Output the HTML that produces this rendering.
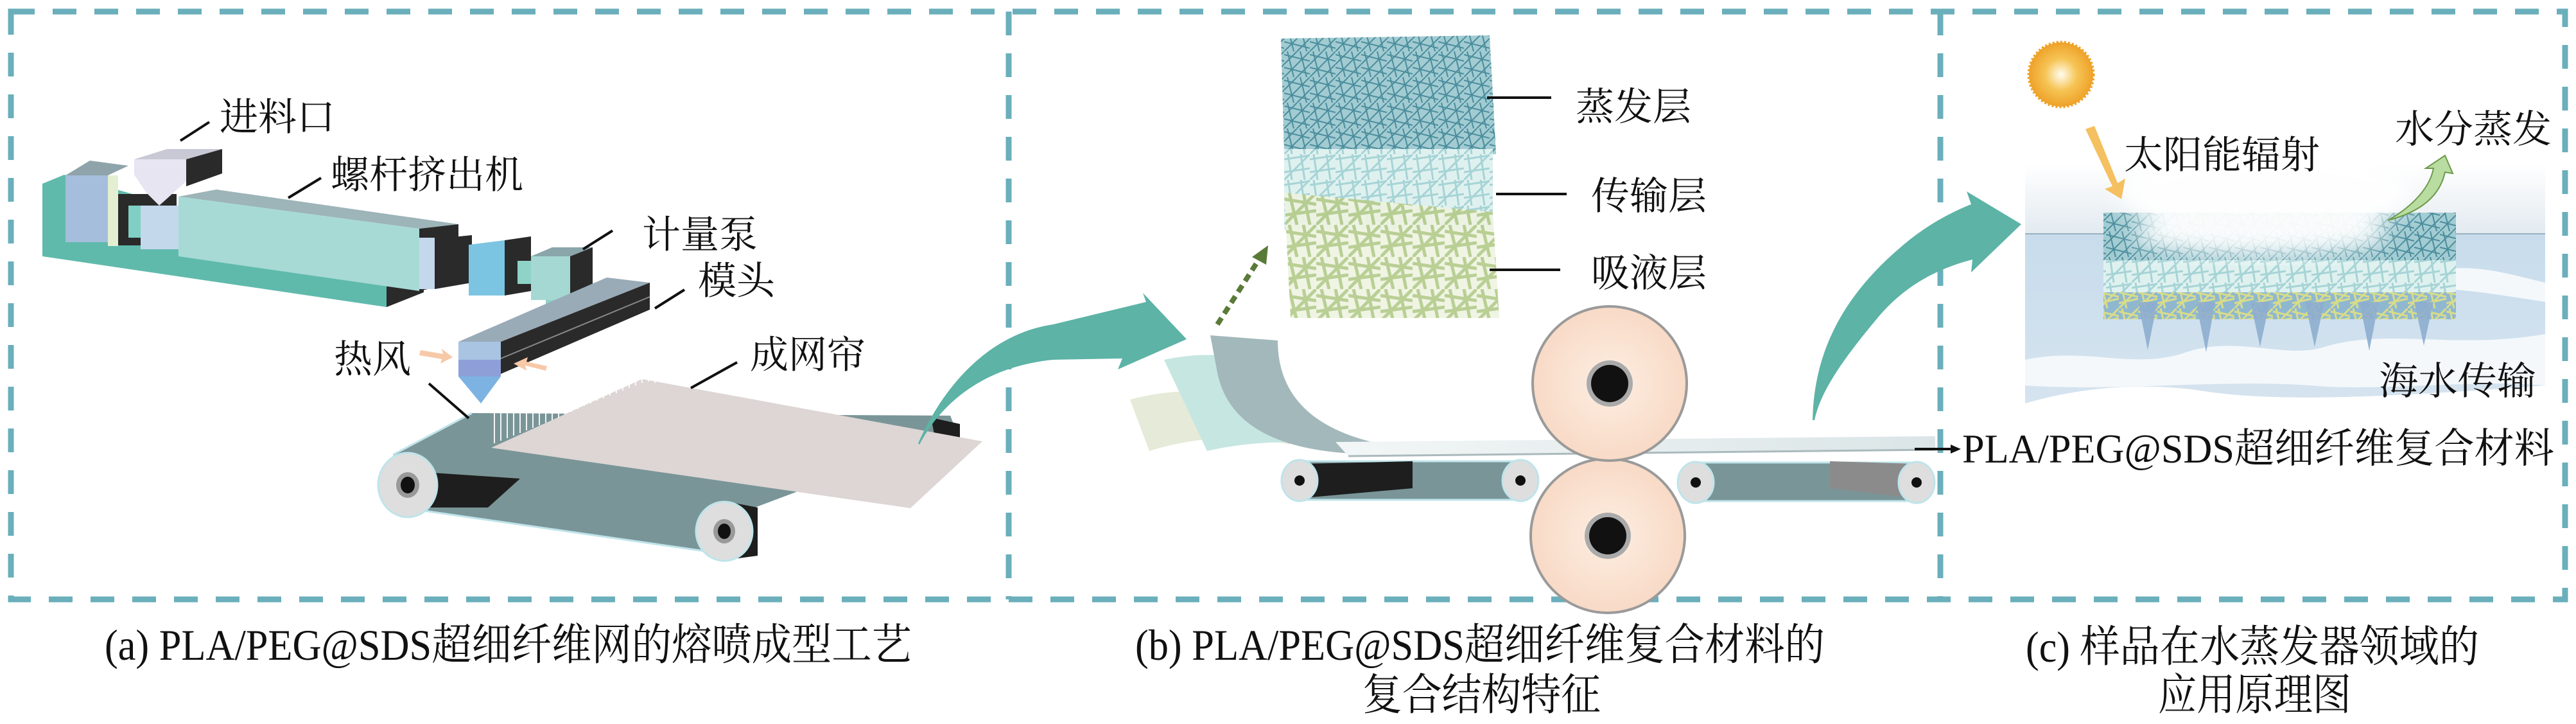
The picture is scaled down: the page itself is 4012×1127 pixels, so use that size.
<!DOCTYPE html>
<html><head><meta charset="utf-8"><style>
html,body{margin:0;padding:0;background:#fff;}
svg{display:block;}
text{font-family:"Liberation Serif","Noto Serif CJK SC","Noto Sans CJK SC",serif;fill:#111;}
</style></head><body>
<svg width="4012" height="1127" viewBox="0 0 4012 1127" xmlns="http://www.w3.org/2000/svg">
<defs>
<pattern id="pTeal" width="40" height="40" patternUnits="userSpaceOnUse">
<rect width="40" height="40" fill="#a2cbd2"/>
<path d="M0 5L40 15M0 25L40 35M5 0L15 40M25 0L35 40M0 40L40 0M0 20L20 0M20 40L40 20" stroke="#4a8d9c" stroke-width="2"/>
</pattern>
<pattern id="pCyan" width="40" height="40" patternUnits="userSpaceOnUse">
<rect width="40" height="40" fill="#dff1ef"/>
<path d="M0 8L40 2M0 28L40 22M6 0L12 40M26 0L32 40M0 40L40 0" stroke="#a6d4d6" stroke-width="3"/>
</pattern>
<pattern id="pGreen" width="50" height="50" patternUnits="userSpaceOnUse">
<rect width="50" height="50" fill="#eef3e2"/>
<path d="M0 10L50 18M0 35L50 28M8 0L20 50M30 0L40 50M0 50L50 0" stroke="#b5cc8e" stroke-width="5"/>
</pattern>
<pattern id="pYel" width="30" height="30" patternUnits="userSpaceOnUse">
<rect width="30" height="30" fill="#8fb8d0"/>
<path d="M0 5L30 12M0 22L30 15M5 0L12 30M0 30L30 0" stroke="#d8dc8a" stroke-width="3"/>
</pattern>
<linearGradient id="sky" x1="0" y1="0" x2="0" y2="1"><stop offset="0" stop-color="#ffffff"/><stop offset="1" stop-color="#e2eaf0"/></linearGradient>
<linearGradient id="sea" x1="0" y1="0" x2="0" y2="1"><stop offset="0" stop-color="#c8dcec"/><stop offset="1" stop-color="#d6e4ef"/></linearGradient>
<radialGradient id="sun"><stop offset="0" stop-color="#fffdf0"/><stop offset="0.5" stop-color="#f6c455"/><stop offset="1" stop-color="#eea229"/></radialGradient>
<radialGradient id="roll"><stop offset="0" stop-color="#fdeee2"/><stop offset="1" stop-color="#f8dac6"/></radialGradient>
<linearGradient id="flat" x1="0" y1="0" x2="1" y2="0"><stop offset="0" stop-color="#f2f6f6"/><stop offset="1" stop-color="#dbe5e7"/></linearGradient>
<filter id="blur"><feGaussianBlur stdDeviation="16"/></filter>
<clipPath id="sceneClip"><rect x="3154" y="255" width="810" height="388"/></clipPath>
</defs>

<g fill="none" stroke="#6aafbb" stroke-width="9" stroke-dasharray="37 28">
<rect x="17" y="18" width="3978" height="915"/>
<line x1="1571" y1="18" x2="1571" y2="933"/>
<line x1="3022" y1="18" x2="3022" y2="933"/>
</g>

<!-- PANEL A -->
<polygon points="66,286 100,272 660,430 660,455 602,478 66,399" fill="#5fbaac"/>
<polygon points="602,446 660,430 660,455 602,478" fill="#2a2a2a"/>
<polygon points="102,273 140,250 200,258 168,273" fill="#8fa4aa"/>
<rect x="102" y="273" width="66" height="104" fill="#a4bedb"/>
<rect x="168" y="273" width="16" height="110" fill="#e4efd2"/>
<rect x="184" y="302" width="91" height="80" fill="#2a2a2a"/>
<rect x="200" y="320" width="20" height="50" fill="#7fcfc4"/>
<rect x="219" y="320" width="59" height="68" fill="#c4d8ec"/>
<polygon points="209,248 260,232 346,232 290,248" fill="#c9c9d6"/>
<polygon points="209,248 290,248 290,282 248,320 228,300 209,272" fill="#e6e5f1"/>
<polygon points="290,248 346,232 346,270 290,290" fill="#2a2a2a"/>
<polygon points="278,306 337,295 714,349 653,356" fill="#9db4b8"/>
<polygon points="278,306 653,356 653,453 278,399" fill="#a7dad5"/>
<polygon points="653,356 714,349 714,439 653,453" fill="#2a2a2a"/>
<rect x="653" y="370" width="24" height="80" fill="#c4d8ec"/>
<polygon points="677,372 735,366 735,440 677,450" fill="#2a2a2a"/>
<polygon points="730,381 786,374 786,460 730,460" fill="#7cc5e2"/>
<polygon points="786,374 827,368 827,453 786,460" fill="#2a2a2a"/>
<rect x="806" y="406" width="26" height="36" fill="#8fd3c8"/>
<polygon points="827,399 860,385 923,385 888,399" fill="#8aa6ab"/>
<rect x="827" y="399" width="61" height="68" fill="#a6d8d3"/>
<polygon points="888,399 923,385 923,460 888,467" fill="#2a2a2a"/>
<rect x="850" y="467" width="32" height="22" fill="#8fd3c8"/>
<polygon points="714,532 945,432 1012,440 780,532" fill="#9aabb8"/>
<polygon points="780,532 1012,440 1012,482 780,582" fill="#2a2a2a"/>
<line x1="780" y1="558" x2="1012" y2="462" stroke="#888" stroke-width="2"/>
<rect x="714" y="532" width="66" height="28" fill="#a8c4e2"/>
<rect x="714" y="560" width="66" height="26" fill="#8e9fd8"/>
<polygon points="714,586 780,586 749,628" fill="#7cb3e3"/>
<polygon points="655,545 690,551 688,543 705,556 686,566 688,559 653,553" fill="#f7c9a8"/>
<polygon points="850,577 818,569 820,577 800,566 822,556 820,563 852,570" fill="#f7c9a8"/>
<polygon points="612,708 735,643 1480,647 1490,672 1173,791 1133,863 653,794" fill="#7a9598"/>
<path d="M612,708 L735,643 M653,794 L1133,863" stroke="#bfe4ea" stroke-width="3" fill="none"/>
<polygon points="660,735 810,745 760,790 660,790" fill="#1e1e1e"/>
<polygon points="1450,650 1495,660 1495,700 1460,700" fill="#1e1e1e"/>
<ellipse cx="635" cy="755" rx="46" ry="50" fill="#dedede" stroke="#bfe4ea" stroke-width="3"/>
<ellipse cx="635" cy="755" rx="18" ry="20" fill="#999"/>
<ellipse cx="635" cy="755" rx="11" ry="13" fill="#111"/>
<polygon points="1128,780 1180,790 1180,865 1128,872" fill="#1e1e1e"/>
<ellipse cx="1128" cy="827" rx="44" ry="46" fill="#dedede" stroke="#bfe4ea" stroke-width="3"/>
<ellipse cx="1128" cy="827" rx="17" ry="19" fill="#999"/>
<ellipse cx="1128" cy="827" rx="10" ry="12" fill="#111"/>
<polygon points="765,697 1000,590 1530,687 1418,791" fill="#ddd6d5"/>
<g stroke="#ffffff" stroke-width="2" opacity="0.9">
<path d="M770,690V610 M780,686V600 M790,682V602 M800,678V596 M810,674V594 M820,670V590 M830,666V588 M840,662V585 M850,658V583 M860,654V580 M870,650V578 M880,645V576 M890,641V574 M900,637V572 M910,632V570 M920,628V568 M930,624V566 M940,620V566 M950,616V566 M960,612V567 M970,608V567 M980,604V568 M990,600V570 M1000,596V572 M1010,594V574 M1020,596V576"/>
</g>
<g font-size="60">
<text x="342" y="203">进料口</text>
<text x="515" y="293">螺杆挤出机</text>
<text x="1000" y="386">计量泵</text>
<text x="1087" y="458">模头</text>
<text x="520" y="580">热风</text>
<text x="1168" y="573">成网帘</text>
</g>
<g stroke="#111" stroke-width="4">
<line x1="326" y1="190" x2="281" y2="219"/>
<line x1="500" y1="277" x2="449" y2="308"/>
<line x1="954" y1="359" x2="908" y2="388"/>
<line x1="1066" y1="451" x2="1020" y2="480"/>
<line x1="668" y1="597" x2="730" y2="651"/>
<line x1="1148" y1="564" x2="1076" y2="604"/>
</g>

<path d="M1430,690 C1470,600 1540,520 1640,505 L1785,470 L1780,456 L1848,528 L1741,575 L1748,558 L1640,560 C1540,570 1470,620 1432,692 Z" fill="#5cb3a6"/>

<!-- PANEL B -->
<path d="M1995,60 L2320,55 L2330,240 L2000,240 Z" fill="url(#pTeal)"/>
<rect x="2000" y="232" width="325" height="125" fill="url(#pCyan)"/>
<path d="M2000,300 L2325,330 L2335,495 L2010,495 Z" fill="url(#pGreen)" opacity="0.95"/>
<line x1="2316" y1="152" x2="2416" y2="152" stroke="#111" stroke-width="4"/>
<line x1="2330" y1="302" x2="2440" y2="302" stroke="#111" stroke-width="4"/>
<line x1="2320" y1="420" x2="2430" y2="420" stroke="#111" stroke-width="4"/>
<g font-size="60">
<text x="2454" y="187">蒸发层</text>
<text x="2478" y="326">传输层</text>
<text x="2478" y="446">吸液层</text>
</g>
<line x1="1896" y1="505" x2="1960" y2="405" stroke="#5a7a38" stroke-width="8" stroke-dasharray="12 8"/>
<polygon points="1975,382 1950,400 1972,412" fill="#5a7a38"/>
<path d="M1760,622 Q1850,598 1945,618 L2010,692 Q1900,668 1790,702 Z" fill="#e6ead8"/>
<path d="M1813,560 Q1885,545 1935,560 L2040,690 Q1960,684 1880,702 Z" fill="#c6e6e1"/>
<path d="M1885,522 L1990,530 Q1990,655 2145,690 L2105,706 Q1915,695 1895,575 Z" fill="#a3b8bb"/>
<polygon points="2080,688 3014,679 3014,700 2100,710" fill="url(#flat)"/>
<line x1="2100" y1="710" x2="3014" y2="700" stroke="#aab9bd" stroke-width="3"/>
<rect x="2024" y="718" width="344" height="60" fill="#7a9598" stroke="#bfe4ea" stroke-width="3"/>
<polygon points="2030,722 2200,718 2200,760 2030,775" fill="#1e1e1e"/>
<rect x="2641" y="720" width="344" height="60" fill="#7a9598" stroke="#bfe4ea" stroke-width="3"/>
<polygon points="2850,718 2985,722 2985,776 2850,760" fill="#8b8b8b"/>
<g>
<ellipse cx="2024" cy="748" rx="28" ry="32" fill="#dedede" stroke="#bfe4ea" stroke-width="3"/><circle cx="2024" cy="748" r="8" fill="#111"/>
<ellipse cx="2368" cy="748" rx="28" ry="32" fill="#dedede" stroke="#bfe4ea" stroke-width="3"/><circle cx="2368" cy="748" r="8" fill="#111"/>
<ellipse cx="2641" cy="751" rx="28" ry="32" fill="#dedede" stroke="#bfe4ea" stroke-width="3"/><circle cx="2641" cy="751" r="8" fill="#111"/>
<ellipse cx="2985" cy="751" rx="28" ry="32" fill="#dedede" stroke="#bfe4ea" stroke-width="3"/><circle cx="2985" cy="751" r="8" fill="#111"/>
</g>
<circle cx="2504" cy="834" r="120" fill="url(#roll)" stroke="#9a9a9a" stroke-width="4"/>
<circle cx="2504" cy="834" r="36" fill="#aaa"/><circle cx="2504" cy="834" r="29" fill="#111"/>
<circle cx="2507" cy="597" r="120" fill="url(#roll)" stroke="#9a9a9a" stroke-width="4"/>
<circle cx="2507" cy="597" r="36" fill="#aaa"/><circle cx="2507" cy="597" r="29" fill="#111"/>
<line x1="2982" y1="699" x2="3040" y2="699" stroke="#111" stroke-width="4"/>
<polygon points="3054,699 3038,692 3038,706" fill="#111"/>
<text x="3056" y="720" font-size="64" textLength="922" lengthAdjust="spacingAndGlyphs">PLA/PEG@SDS超细纤维复合材料</text>

<path d="M2823,654 C2825,560 2860,470 2960,385 C3000,350 3040,330 3070,318 L3063,298 L3148,349 L3070,424 L3072,404 C3010,420 2960,450 2920,500 C2870,560 2835,610 2826,654 Z" fill="#5cb3a6"/>

<!-- PANEL C -->
<g clip-path="url(#sceneClip)">
<rect x="3154" y="255" width="810" height="110" fill="url(#sky)"/>
<rect x="3154" y="363" width="810" height="280" fill="url(#sea)"/>
<line x1="3154" y1="364" x2="3964" y2="364" stroke="#9ab0c0" stroke-width="2"/>
<path d="M3154,560 C3250,540 3320,575 3400,550 C3480,520 3560,560 3620,540 C3720,510 3820,545 3964,520 L3964,600 C3850,590 3700,610 3600,600 C3450,590 3300,610 3154,600 Z" fill="#f4f8fb"/>
<path d="M3154,628 C3250,600 3350,595 3440,610 C3550,625 3700,620 3964,600 L3964,643 L3154,643 Z" fill="#ffffff"/>
<path d="M3800,420 C3860,410 3920,430 3964,440 L3964,470 C3900,460 3840,450 3800,450 Z" fill="#f4f8fb"/>
<rect x="3276" y="331" width="549" height="85" fill="url(#pTeal)"/>
<rect x="3276" y="405" width="549" height="55" fill="url(#pCyan)"/>
<rect x="3276" y="455" width="549" height="42" fill="url(#pYel)"/>
<g fill="#8eaed0" opacity="0.9">
<polygon points="3330,470 3360,470 3345,545"/>
<polygon points="3420,470 3450,470 3436,548"/>
<polygon points="3505,470 3535,470 3520,540"/>
<polygon points="3590,470 3620,470 3605,540"/>
<polygon points="3675,470 3705,470 3690,546"/>
<polygon points="3760,470 3790,470 3775,538"/>
</g>
<g fill="#ffffff" filter="url(#blur)" opacity="0.95">
<ellipse cx="3530" cy="300" rx="230" ry="65"/>
<ellipse cx="3520" cy="365" rx="200" ry="32"/>
</g>
</g>
<circle cx="3210" cy="116" r="50" fill="url(#sun)" stroke="#eea229" stroke-width="5" stroke-dasharray="3 3"/>
<polygon points="3248,201 3262,196 3298,285 3310,278 3304,310 3278,294 3290,290" fill="#f5c060"/>
<path d="M3719,343 C3760,320 3785,290 3790,262 L3778,262 L3808,242 L3820,270 L3808,268 C3800,305 3770,330 3719,343 Z" fill="#b9dca0" stroke="#6c9a4c" stroke-width="2"/>
<g font-size="60" font-family="'Noto Sans CJK SC','Noto Serif CJK SC',sans-serif">
<text x="3308" y="262" textLength="305" lengthAdjust="spacingAndGlyphs">太阳能辐射</text>
<text x="3730" y="222" textLength="244" lengthAdjust="spacingAndGlyphs">水分蒸发</text>
<text x="3705" y="614" textLength="245" lengthAdjust="spacingAndGlyphs">海水传输</text>
</g>

<g font-size="68">
<text x="163" y="1027" textLength="1257" lengthAdjust="spacingAndGlyphs">(a) PLA/PEG@SDS超细纤维网的熔喷成型工艺</text>
<text x="1768" y="1027" textLength="1074" lengthAdjust="spacingAndGlyphs">(b) PLA/PEG@SDS超细纤维复合材料的</text>
<text x="2122" y="1105" textLength="371" lengthAdjust="spacingAndGlyphs">复合结构特征</text>
<text x="3155" y="1030" textLength="706" lengthAdjust="spacingAndGlyphs">(c) 样品在水蒸发器领域的</text>
<text x="3361" y="1105" textLength="301" lengthAdjust="spacingAndGlyphs">应用原理图</text>
</g>
</svg>
</body></html>
